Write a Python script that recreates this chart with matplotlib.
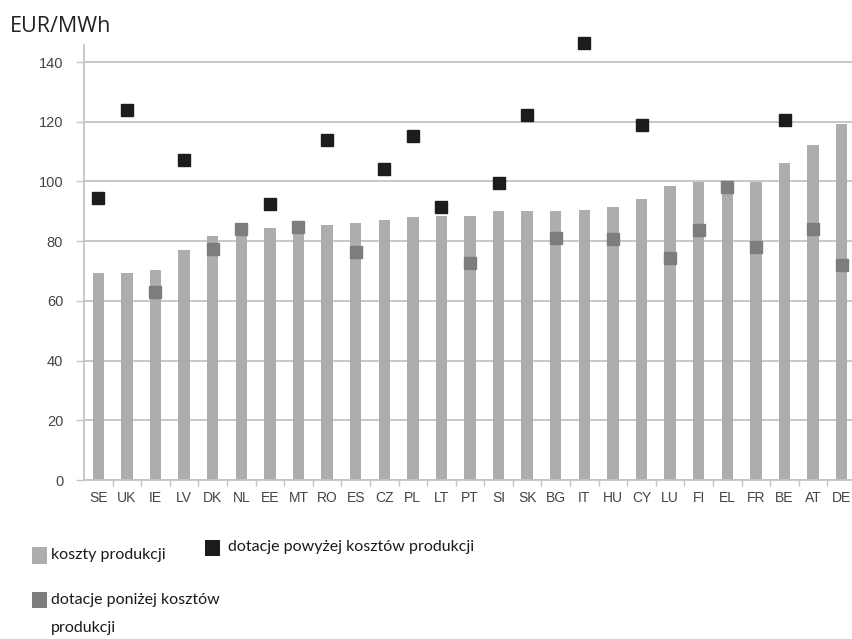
import numpy as np
import matplotlib
matplotlib.use("Agg")
import matplotlib.pyplot as plt
from matplotlib.patches import Rectangle

countries = ["SE", "UK", "IE", "LV", "DK", "NL", "EE", "MT", "RO", "ES", "CZ", "PL", "LT",
             "PT", "SI", "SK", "BG", "IT", "HU", "CY", "LU", "FI", "EL", "FR", "BE", "AT", "DE"]
koszty = [69.2, 69.2, 70.5, 77.2, 81.8, 86.0, 84.4, 86.3, 85.4, 86.2, 87.1, 88.2, 88.4,
          88.4, 90.1, 90.1, 90.1, 90.4, 91.5, 94.0, 98.5, 99.7, 99.9, 99.9, 106.3, 112.3, 119.2]
nan = np.nan
ponizej = [nan, nan, 63.1, nan, 77.4, 84.1, nan, 84.6, nan, 76.5, nan, nan, nan,
           72.6, nan, nan, 81.2, nan, 80.7, nan, 74.5, 83.7, 98.0, 78.1, nan, 84.0, 72.0]
powyzej = [94.5, 123.9, nan, 107.2, nan, nan, 92.5, nan, 113.9, nan, 104.2, 115.3, 91.3,
           nan, 99.4, 122.2, nan, 146.5, nan, 118.8, nan, nan, nan, nan, 120.6, nan, nan]
yticks = [0, 20, 40, 60, 80, 100, 120, 140]

c_bar = "#adadad"
c_mid = "#7d7d7d"
c_dark = "#1c1c1c"
c_grid = "#c4c4c4"

W, H = 852, 639
fig = plt.figure(figsize=(W / 100, H / 100), dpi=100)
ax = fig.add_axes([84 / W, 1 - 480 / H, (856 - 84) / W, (480 - 45) / H])

x = np.arange(len(countries))
ax.bar(x, koszty, width=0.4, color=c_bar, zorder=2)
ax.plot(x, ponizej, ls="none", marker="s", ms=8.4, color=c_mid, mec=c_mid, zorder=3)
ax.plot(x, powyzej, ls="none", marker="s", ms=9.2, color=c_dark, mec=c_dark, zorder=3,
        clip_on=False)

ax.set_xlim(-0.5, len(countries) - 0.5)
ax.set_ylim(0, 145.7)
ax.set_yticks(yticks)
ax.set_yticklabels([str(v) for v in yticks])
ax.yaxis.grid(True, color=c_grid, lw=1.3, zorder=0)
ax.set_axisbelow(True)

ax.set_xticks(x)
ax.set_xticklabels(countries)
ax.set_xticks(np.arange(len(countries)) + 0.5, minor=True)
ax.tick_params(axis="x", which="major", length=0, pad=8, labelsize=10, labelcolor="#444444")
ax.tick_params(axis="x", which="minor", length=4, width=1, color=c_grid)
ax.tick_params(axis="y", length=6, width=1, color=c_grid, pad=9, labelsize=10.5,
               labelcolor="#444444")
for lab in ax.get_xticklabels() + ax.get_yticklabels():
    lab.set_family("Liberation Sans")

for s in ["top", "right"]:
    ax.spines[s].set_visible(False)
for s in ["left", "bottom"]:
    ax.spines[s].set_color(c_grid)
    ax.spines[s].set_linewidth(1.3)

fig.text(10 / W, 1 - 26 / H, "EUR/MWh", fontsize=15.5, family="Open Sans", color="#222222",
         va="center", ha="left")

# legend
legfont = "Lato"

def leg_box(x0, y0, w, h, col):
    fig.add_artist(Rectangle((x0 / W, 1 - (y0 + h) / H), w / W, h / H,
                             transform=fig.transFigure, color=col, lw=0))

leg_box(32, 547, 15, 17, c_bar)
fig.text(51 / W, 1 - 555 / H, "koszty produkcji", fontsize=11.5, family=legfont,
         color="#1a1a1a", va="center", ha="left")
leg_box(205, 540, 15, 16, c_dark)
fig.text(228 / W, 1 - 547 / H, "dotacje powyżej kosztów produkcji", fontsize=11.5,
         family=legfont, color="#1a1a1a", va="center", ha="left")
leg_box(32, 592, 15, 16, c_mid)
fig.text(51 / W, 1 - 600 / H, "dotacje poniżej kosztów", fontsize=11.5, family=legfont,
         color="#1a1a1a", va="center", ha="left")
fig.text(51 / W, 1 - 628 / H, "produkcji", fontsize=11.5, family=legfont,
         color="#1a1a1a", va="center", ha="left")

fig.savefig("out.png", dpi=100)
